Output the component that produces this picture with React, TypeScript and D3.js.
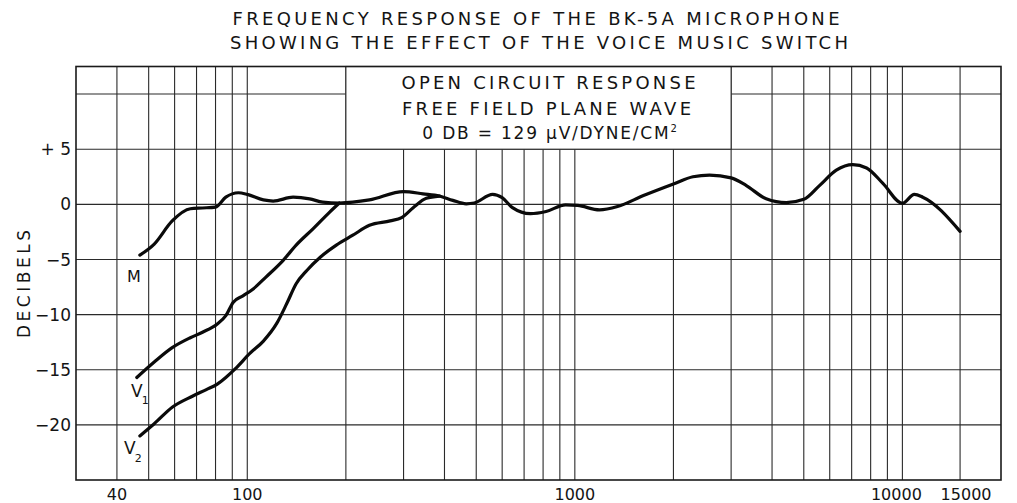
import React from 'react';
import * as d3 from 'd3';

// ---- Text ----
const titleLines = [
  'FREQUENCY  RESPONSE  OF  THE  BK-5A  MICROPHONE',
  'SHOWING  THE  EFFECT  OF  THE  VOICE  MUSIC  SWITCH',
];
const boxLines = ['OPEN  CIRCUIT  RESPONSE', 'FREE  FIELD  PLANE  WAVE'];
const yAxisTitle = 'DECIBELS';

// ---- Axes ----
const yTickValues = [5, 0, -5, -10, -15, -20];
const yTickLabels = ['+ 5', '0', '−5', '−10', '−15', '−20'];
const yGridValues = [-20, -15, -10, -5, 0, 5, 10];
const xGridValues = [
  40, 50, 60, 70, 80, 90, 100, 200, 300, 400, 500, 600, 700, 800, 900, 1000,
  2000, 3000, 4000, 5000, 6000, 7000, 8000, 9000, 10000, 15000,
];
const xTickValues = [40, 100, 1000, 10000, 15000];
const xTickLabels = ['40', '100', '1000', '10000', '15000'];

// ---- Series: M (music) ----
const mFreq = [
  47, 52, 59, 67, 73, 80, 86, 94, 100, 112, 120, 138, 155, 170, 191, 236, 300,
  344, 386, 424, 466, 493, 561, 600, 645, 732, 817, 937, 1020, 1189, 1350, 1620,
  2000, 2294, 2578, 3000, 3339, 3838, 4420, 5000, 5582, 6284, 7052, 7775, 8719,
  10000, 10875, 11540, 15000,
];
const mDb = [
  -4.6, -3.6, -1.5, -0.4, -0.33, -0.25, 0.65, 1.05, 0.9, 0.4, 0.3, 0.65, 0.5,
  0.2, 0.12, 0.4, 1.15, 0.95, 0.75, 0.36, 0.05, 0.12, 0.9, 0.6, -0.3, -0.85,
  -0.65, -0.05, -0.1, -0.5, -0.2, 0.8, 1.85, 2.5, 2.65, 2.4, 1.7, 0.5, 0.15,
  0.45, 1.7, 3.1, 3.6, 3.3, 1.9, 0.1, 0.9, 0.65, -2.45,
];

// ---- Series: V1 ----
const v1Freq = [46, 52, 59, 67, 73, 81, 86, 90.5, 97, 104, 114, 128.5, 141, 159, 178.5, 191];
const v1Db = [-15.7, -14.3, -13.0, -12.1, -11.6, -10.85, -10.1, -8.9, -8.3, -7.7, -6.6, -5.1, -3.7, -2.2, -0.7, 0.12];

// ---- Series: V2 ----
const v2Freq = [47, 52, 59, 68, 75, 81, 86, 92, 102, 112, 123, 132, 141, 152, 167, 187, 210, 236, 273, 296, 321, 352, 386];
const v2Db = [-21, -19.9, -18.4, -17.4, -16.8, -16.3, -15.7, -14.9, -13.5, -12.4, -10.8, -9.0, -7.2, -6.0, -4.8, -3.7, -2.8, -1.9, -1.5, -1.2, -0.3, 0.55, 0.75];

const W = 1017;
const H = 503;
const FONT = '"DejaVu Sans", "Liberation Sans", sans-serif';
const INK = '#141414';

export default function App() {
  const x = d3.scaleLog().domain([30, 20000]).range([76, 1001]);
  const y = d3.scaleLinear().domain([-25, 12.5]).range([480, 66.5]);

  const line = d3
    .line<[number, number]>()
    .x((d) => x(d[0]))
    .y((d) => y(d[1]))
    .curve(d3.curveMonotoneX);

  const zip = (f: number[], v: number[]) => f.map((ff, i) => [ff, v[i]] as [number, number]);
  const series = [zip(mFreq, mDb), zip(v1Freq, v1Db), zip(v2Freq, v2Db)];

  const [x0, x1] = x.range();
  const [yb, yt] = y.range();

  const boxX0 = x(200);
  const boxX1 = x(3000);
  const boxY1 = y(5);
  const boxCx = (boxX0 + boxX1) / 2 + 10;

  const labelNudge = (v: number) => (v === 10000 ? -6 : v === 15000 ? 6 : 0);

  return (
    <svg
      width={W}
      height={H}
      style={{ position: 'absolute', left: 0, top: 0, background: '#fff' }}
      fontFamily={FONT}
    >
      <rect x={0} y={0} width={W} height={H} fill="#fff" />

      {/* Title */}
      <text x={536} y={25} fontSize={18} fill={INK} textAnchor="middle" textLength={607} lengthAdjust="spacing">
        {titleLines[0]}
      </text>
      <text x={539} y={49} fontSize={18} fill={INK} textAnchor="middle" textLength={618} lengthAdjust="spacing">
        {titleLines[1]}
      </text>

      {/* Grid */}
      <g stroke="#2a2a2a" strokeWidth={1.1}>
        {xGridValues.map((v) => (
          <line key={'xv' + v} x1={x(v)} x2={x(v)} y1={yt} y2={yb} />
        ))}
        {yGridValues.map((v) => (
          <line key={'yh' + v} x1={x0} x2={x1} y1={y(v)} y2={y(v)} />
        ))}
      </g>

      {/* Legend box */}
      <rect x={boxX0} y={yt} width={boxX1 - boxX0} height={boxY1 - yt} fill="#fff" stroke="#2a2a2a" strokeWidth={1.1} />
      <text x={boxCx} y={89} fontSize={18} fill={INK} textAnchor="middle" textLength={294} lengthAdjust="spacing">
        {boxLines[0]}
      </text>
      <text x={boxCx - 2} y={115} fontSize={18} fill={INK} textAnchor="middle" textLength={289} lengthAdjust="spacing">
        {boxLines[1]}
      </text>
      <text x={boxCx + 2} y={139} fontSize={17} fill={INK} textAnchor="middle" letterSpacing={1.8}>
        {'0 DB  =  129  µV/DYNE/CM'}
        <tspan fontSize={10} dy={-7}>2</tspan>
      </text>

      {/* Frame */}
      <rect x={x0} y={yt} width={x1 - x0} height={yb - yt} fill="none" stroke="#1a1a1a" strokeWidth={1.6} />

      {/* Curves */}
      <g fill="none" stroke="#0a0a0a" strokeWidth={3.2} strokeLinecap="round" strokeLinejoin="round">
        {series.map((s, i) => (
          <path key={'s' + i} d={line(s) || ''} />
        ))}
      </g>

      {/* Curve labels */}
      <text x={134} y={282} fontSize={16} fill={INK} textAnchor="middle">M</text>
      <text x={131} y={397} fontSize={17} fill={INK}>
        V<tspan fontSize={11} dx={-1} dy={7}>1</tspan>
      </text>
      <text x={124} y={454} fontSize={17} fill={INK}>
        V<tspan fontSize={11} dx={-1} dy={8}>2</tspan>
      </text>

      {/* Y tick labels */}
      {yTickValues.map((v, i) => (
        <text key={'yt' + v} x={71} y={y(v)} dy="0.36em" fontSize={17} fill={INK} textAnchor="end">
          {yTickLabels[i]}
        </text>
      ))}
      <text
        transform={`translate(30, 284) rotate(-90)`}
        fontSize={17}
        fill={INK}
        textAnchor="middle"
        textLength={108}
        lengthAdjust="spacing"
      >
        {yAxisTitle}
      </text>

      {/* X tick labels */}
      {xTickValues.map((v, i) => (
        <text key={'xt' + v} x={x(v) + labelNudge(v)} y={500} fontSize={16} fill={INK} textAnchor="middle">
          {xTickLabels[i]}
        </text>
      ))}
    </svg>
  );
}
